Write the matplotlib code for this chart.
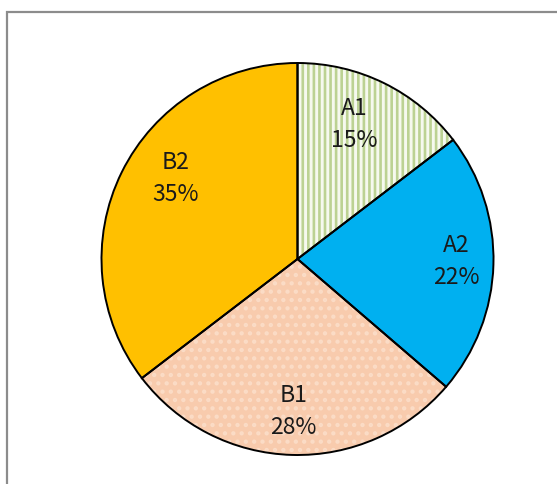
import numpy as np
import matplotlib
matplotlib.use("Agg")
import matplotlib.pyplot as plt
from matplotlib.patches import Rectangle

plt.rcParams['font.family'] = ['Noto Sans CJK JP', 'DejaVu Sans']
plt.rcParams['hatch.linewidth'] = 1.9

# data
labels = ['A1', 'A2', 'B1', 'B2']
shares = [14.6, 21.7, 28.3, 35.4]
colors = ['#f6f9ef', '#00b0f0', '#f8cbad', '#ffc000']

W, H = 557, 484
fig = plt.figure(figsize=(W/100, H/100), dpi=100)

# frame of the chart area (cropped on the right and bottom)
fig.patches.append(Rectangle((7/W, -0.1), 1.2, (H-12)/H + 0.1, transform=fig.transFigure,
                             fill=False, ec='#8c8c8c', lw=1.6))

cx, cy, r = 297.5, 259, 196
lim = 1.03
ax = fig.add_axes([(cx - r*lim)/W, (H - cy - r*lim)/H, 2*r*lim/W, 2*r*lim/H])

# textures first (no outline), then outlined pie on top
tex, _ = ax.pie(shares, startangle=90, counterclock=False, radius=1,
                colors=colors, wedgeprops=dict(lw=0))
tex[0].set_hatch('|||'); tex[0].set_edgecolor('#bcd293')
tex[2].set_hatch('..'); tex[2].set_edgecolor('#fbdcc6')

wedges, _ = ax.pie(shares, startangle=90, counterclock=False, radius=1,
                   wedgeprops=dict(fill=False, ec='black', lw=1.4))
ax.set_xlim(-lim, lim); ax.set_ylim(-lim, lim); ax.set_aspect('equal'); ax.axis('off')

# small label nudges (px) so they sit like the excel labels
nudge = [(-10, -1), (8, 2), (0, -2), (13, 14)]
total = sum(shares)
for w, lab, s, (nx, ny) in zip(wedges, labels, shares, nudge):
    ang = np.deg2rad((w.theta1 + w.theta2) / 2)
    d = 0.77
    ax.text(d*np.cos(ang) + nx/r, d*np.sin(ang) + ny/r, f'{lab}\n{100*s/total:.0f}%',
            ha='center', va='center', fontsize=16.5, linespacing=1.5, color='#1a1a1a')

fig.savefig('out.png', dpi=100)
